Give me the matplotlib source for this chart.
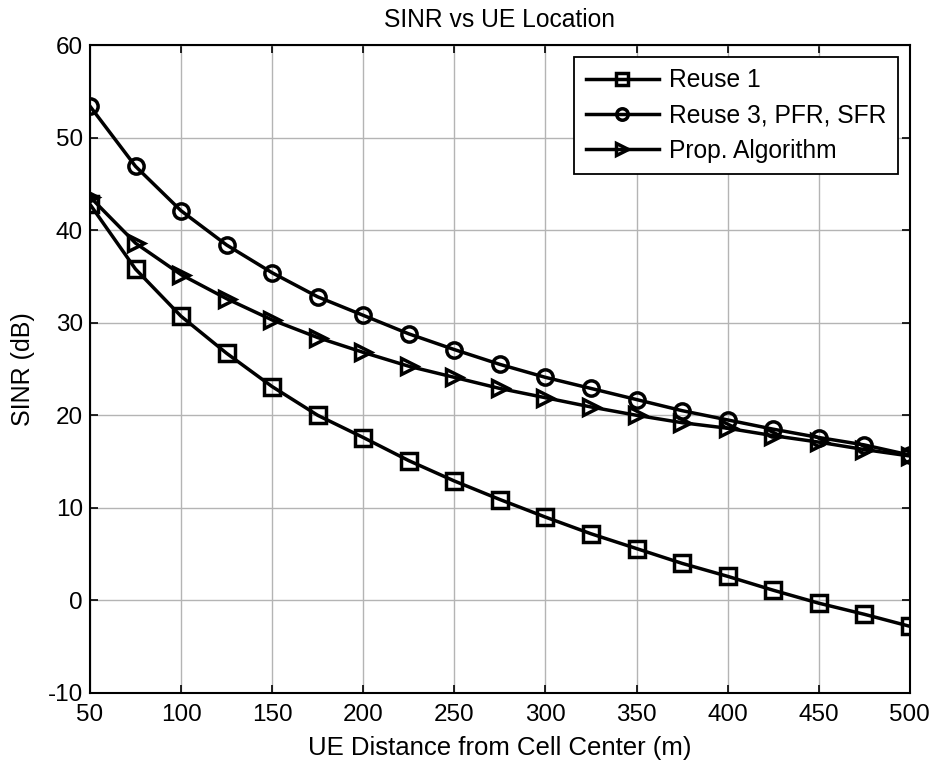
import matplotlib
matplotlib.use("Agg")
import matplotlib.pyplot as plt

plt.rcParams['font.family'] = ['Liberation Sans', 'DejaVu Sans']
plt.rcParams['axes.unicode_minus'] = False

# UE distance (m)
dist = [50, 75, 100, 125, 150, 175, 200, 225, 250, 275, 300, 325, 350, 375, 400, 425, 450, 475, 500]

# SINR (dB)
reuse1 = [42.8, 35.8, 30.7, 26.7, 23.1, 20.0, 17.6, 15.1, 12.9, 10.9, 9.0, 7.2, 5.6, 4.0, 2.6, 1.1, -0.3, -1.5, -2.8]
reuse3 = [53.4, 46.9, 42.1, 38.4, 35.4, 32.8, 30.8, 28.8, 27.1, 25.5, 24.1, 22.9, 21.7, 20.5, 19.5, 18.5, 17.6, 16.8, 15.7]
prop = [43.6, 38.6, 35.2, 32.6, 30.3, 28.4, 26.8, 25.3, 24.1, 22.9, 21.9, 20.9, 20.0, 19.2, 18.6, 17.8, 17.1, 16.3, 15.6]

labels = ['Reuse 1', 'Reuse 3, PFR, SFR', 'Prop. Algorithm']

fig = plt.figure(figsize=(9.37, 7.64), dpi=100)
ax = fig.add_axes([0.096, 0.093, 0.875, 0.848])

style = dict(color='black', lw=2.5, markersize=11, markeredgewidth=2.5, markerfacecolor='none')
ax.plot(dist, reuse1, marker='s', label=labels[0], **style)
ax.plot(dist, reuse3, marker='o', label=labels[1], **style)
ax.plot(dist, prop, marker='>', label=labels[2], **style)

ax.set_xlim(50, 500)
ax.set_ylim(-10, 60)
ax.set_xticks(range(50, 501, 50))
ax.set_yticks(range(-10, 61, 10))
ax.grid(True, color='#b4b4b4', lw=1)
ax.set_axisbelow(True)
ax.tick_params(direction='in', top=True, right=True, labelsize=17.5, length=6, width=1.2)
ax.tick_params(axis='x', pad=8)
ax.tick_params(axis='y', pad=5)
for s in ax.spines.values():
    s.set_linewidth(1.5)

ax.set_title('SINR vs UE Location', fontsize=17.7, pad=13)
ax.set_xlabel('UE Distance from Cell Center (m)', fontsize=18.5, labelpad=7)
ax.set_ylabel('SINR (dB)', fontsize=18, labelpad=9)

leg = ax.legend(loc='upper right', fontsize=17.7, fancybox=False, framealpha=1,
                edgecolor='black', handlelength=3.0, handletextpad=0.4,
                labelspacing=0.45, markerscale=0.75, borderaxespad=0.5,
                borderpad=0.45)
leg.get_frame().set_linewidth(1.3)

fig.savefig('out.png', dpi=100)
